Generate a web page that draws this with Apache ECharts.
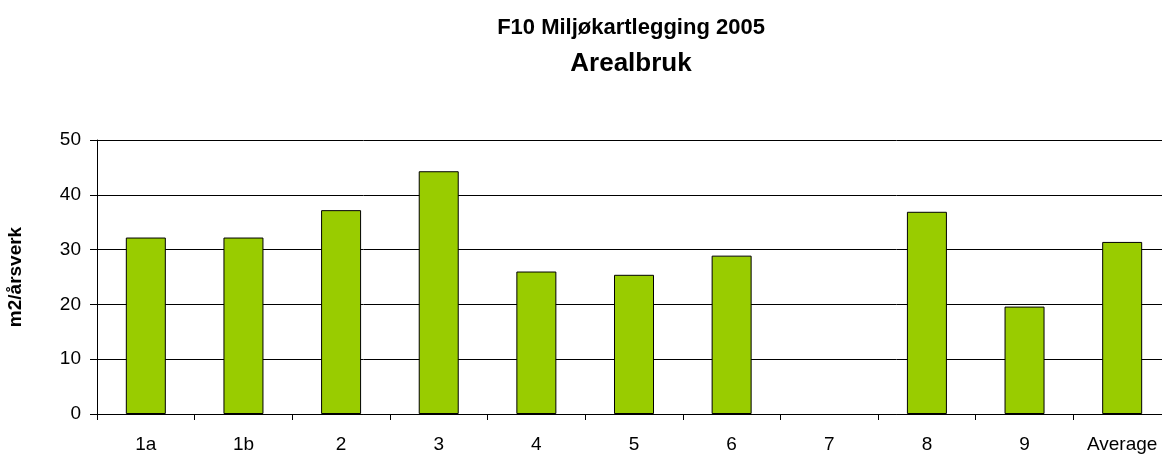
<!DOCTYPE html>
<html>
<head>
<meta charset="utf-8">
<script src="https://cdn.jsdelivr.net/npm/echarts@6/dist/echarts.min.js"></script>
<style>
html,body{margin:0;padding:0;background:#fff;}
#chart{width:1162px;height:454px;}
</style>
</head>
<body>
<div id="chart"></div>
<script>
const titleText = 'F10 Miljøkartlegging 2005';
const subtitleText = 'Arealbruk';
const yAxisName = 'm2/årsverk';
const categories = ['1a', '1b', '2', '3', '4', '5', '6', '7', '8', '9', 'Average'];
const values = [32.2, 32.2, 37.2, 44.3, 26.0, 25.4, 28.9, null, 36.9, 19.6, 31.4];
const yMin = 0, yMax = 50, yInterval = 10;

const chart = echarts.init(document.getElementById('chart'), null, {renderer: 'canvas'});
const font = 'Liberation Sans, Arial, sans-serif';
chart.setOption({
  animation: false,
  backgroundColor: '#ffffff',
  title: [
    {text: titleText, left: 626, top: 12, textAlign: 'center',
     textStyle: {fontFamily: font, fontSize: 22, fontWeight: 'bold', color: '#000'}},
    {text: subtitleText, left: 626, top: 46, textAlign: 'center',
     textStyle: {fontFamily: font, fontSize: 26, fontWeight: 'bold', color: '#000'}}
  ],
  grid: {left: 97, top: 140, bottom: 40, right: -9, containLabel: false, outerBoundsMode: 'none'},
  xAxis: {
    type: 'category',
    data: categories,
    axisLine: {show: true, lineStyle: {color: '#000', width: 1}},
    axisTick: {show: true, inside: false, length: 6, alignWithLabel: false, lineStyle: {color: '#000'}},
    axisLabel: {color: '#000', fontFamily: font, fontSize: 19, margin: 21, interval: 0},
    splitLine: {show: false}
  },
  yAxis: {
    type: 'value',
    min: yMin, max: yMax, interval: yInterval,
    name: yAxisName,
    nameLocation: 'middle',
    nameGap: 72,
    nameRotate: 90,
    nameTextStyle: {fontFamily: font, fontSize: 19, fontWeight: 'bold', color: '#000'},
    axisLine: {show: true, lineStyle: {color: '#000', width: 1}},
    axisTick: {show: true, inside: false, length: 7, lineStyle: {color: '#000'}},
    axisLabel: {color: '#000', fontFamily: font, fontSize: 19, margin: 16},
    splitLine: {show: true, lineStyle: {color: '#000', width: 1}}
  },
  series: [{
    type: 'bar',
    data: values,
    barWidth: 40,
    itemStyle: {color: '#99CC00', borderColor: '#000', borderWidth: 1}
  }]
});
</script>
</body>
</html>
